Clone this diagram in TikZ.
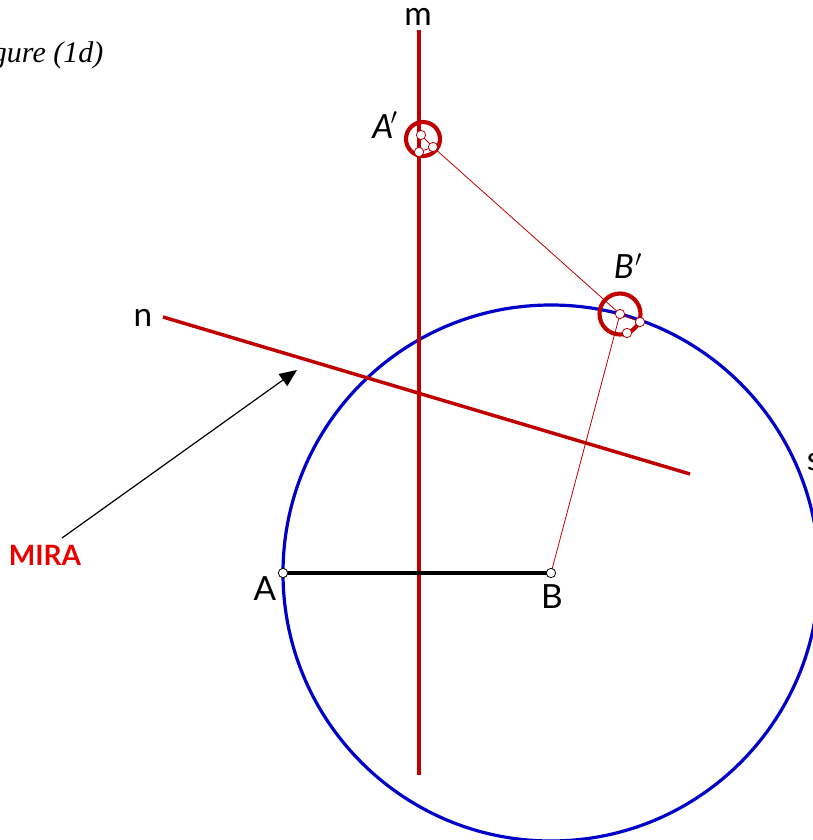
\documentclass[tikz,border=0pt]{standalone}
\usepackage{fontspec}
\setmainfont{Lato}
\newfontfamily\capfont{Liberation Serif}
\usetikzlibrary{arrows.meta}
\definecolor{mirared}{RGB}{192,0,0}
\definecolor{circblue}{RGB}{0,0,200}
\definecolor{labred}{RGB}{235,0,0}
\begin{document}
\begin{tikzpicture}[x=0.75pt,y=-0.75pt,line cap=butt,
  mirror/.style={draw=mirared,line width=3pt},
  trace/.style={draw=mirared,line width=0.6pt},
  ring/.style={draw=mirared,line width=3.1pt},
  pt/.style={circle,draw,fill=white,inner sep=0pt,minimum size=7pt,line width=0.6pt},
  lab/.style={font=\fontsize{25}{28}\selectfont,inner sep=0.5pt}]
 \useasboundingbox (0,0) rectangle (813,840);
 \clip (0,0) rectangle (813,840);
 \coordinate (A) at (283,573); \coordinate (B) at (551,573);
 \coordinate (mtop) at (419,30); \coordinate (mbot) at (419,775);
 \coordinate (nl) at (163,317); \coordinate (nr) at (690,474);
 \coordinate (Apa) at (421,135); \coordinate (Apb) at (419,152);
 \coordinate (Apc) at (433,147);
 \coordinate (Bpa) at (620,314); \coordinate (Bpb) at (640,322);
 \coordinate (Bpc) at (627,333);
 % circle s through A, centred at B
 \draw[circblue,line width=2.4pt] (B) circle[radius=268];
 \draw[mirror] (mtop)--(mbot);
 \draw[mirror,line width=2.6pt] (nl)--(nr);
 \draw[line width=3pt] (A)--(B);
 \draw[trace] (Apc)--(Bpa)--(B);
 \draw[trace] (Apa)--(Apc)--(Apb)--(Apa);
 \draw[trace] (Bpa)--(Bpb)--(Bpc);
 \draw[ring] (423,139) circle[radius=17];
 \draw[ring] (620,314) circle[radius=20.5];
 \foreach \p in {Apa,Apb,Apc,Bpa,Bpb,Bpc}
   \node[pt,draw=mirared] (d\p) at (\p) {};
 \node[pt] (dA) at (A) {}; \node[pt] (dB) at (B) {};
 \node[lab] (labA) at (265,589) {A};
 \node[lab] (labB) at (552,597) {B};
 \node[lab] (labm) at (418,17) {m};
 \node[lab] (labn) at (143,318) {n};
 \node[lab,anchor=west] (labs) at (806,462) {s};
 \node[lab] (labAp) at (385,125) {\itshape A\kern-2pt\raisebox{2pt}{$'$}};
 \node[lab] (labBp) at (628,266) {\itshape B\kern1pt$'$};
 \node[font=\fontsize{21}{24}\selectfont\bfseries,text=labred] (mira) at (45,555) {MIRA};
 \coordinate (tip) at (297,370);
 \draw[-{Triangle[length=13pt,width=11pt]},line width=0.9pt] (62,538)--(tip);
 \node[font=\capfont\itshape\fontsize{22.5}{26}\selectfont,anchor=east] (cap) at (108,55) {Figure (1d)};
\end{tikzpicture}
\end{document}
